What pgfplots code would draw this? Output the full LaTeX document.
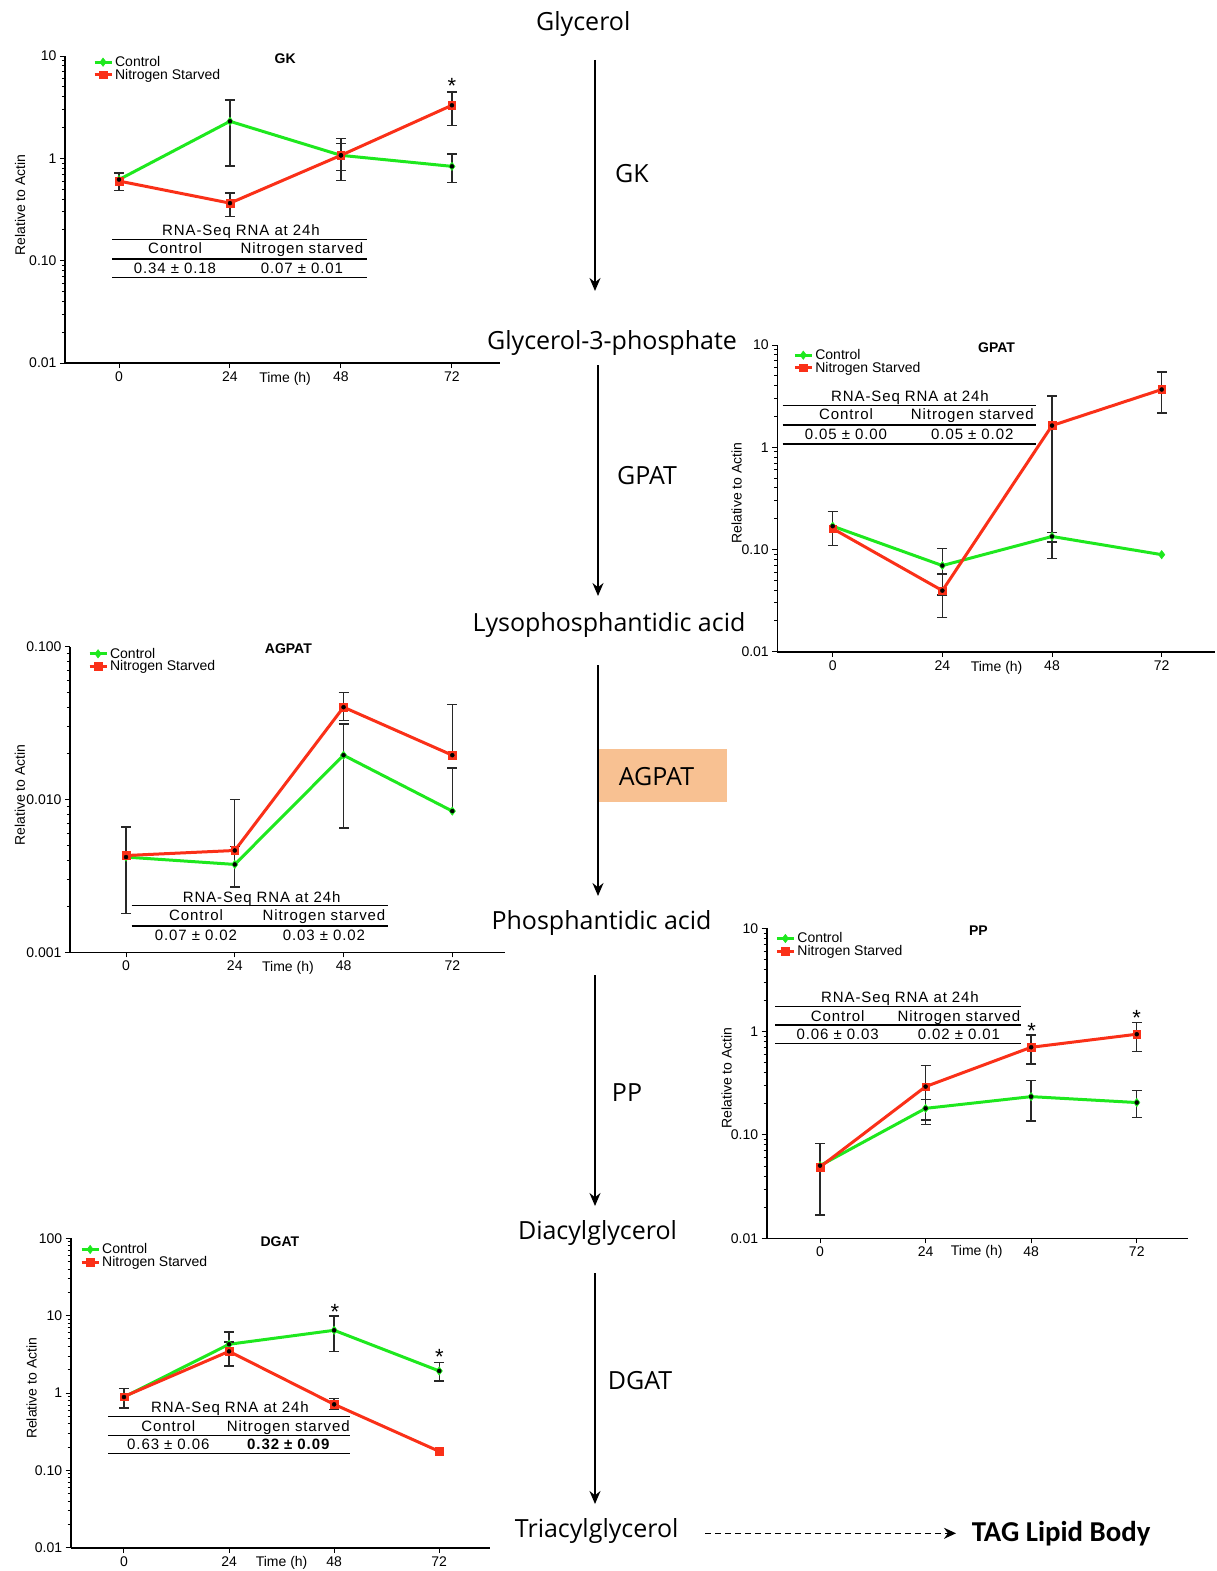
\documentclass[border=0pt]{standalone}
\usepackage{fontspec}
\setmainfont{Liberation Sans}
\newfontfamily\pathfont{Open Sans}
\newfontfamily\tagfont{Carlito}
\newfontfamily\tablefont{Liberation Sans}[LetterSpace=6]
\usepackage{pgfplots}
\pgfplotsset{compat=1.18}
\usetikzlibrary{arrows.meta}
\definecolor{ctrl}{RGB}{30,232,30}
\definecolor{nsc}{RGB}{250,48,24}
\definecolor{agbox}{RGB}{248,193,146}
\definecolor{ebc}{RGB}{40,40,40}
\newcommand{\pf}{\fontsize{14}{14}\selectfont}
\newcommand{\tf}{\tablefont\fontsize{15}{15}\selectfont}
\newcommand{\pwf}{\pathfont\fontsize{25}{25}\selectfont}

\begin{document}
\begin{tikzpicture}
\useasboundingbox (0pt,0pt) rectangle (1216pt,-1571pt);

%================ GK ================
\begin{axis}[scale only axis, ymode=log, clip=false,
  axis x line*=bottom, axis y line*=left,
  axis line style={-, line width=1.6pt},
  xtick={0,24,48,72}, xticklabels={0,24,48,72},
  tick align=outside, major tick length=5pt, minor tick length=3pt,
  every tick/.style={black, line width=1pt},
  tick label style={font=\pf},
  /pgf/number format/assume math mode=true,
  xlabel={Time (h)}, ylabel={Relative to Actin},
  xlabel style={font=\pf, anchor=center, at={(axis description cs:0.506,-0.052)}},
  ylabel style={font=\pf, anchor=center, at={(axis description cs:-0.103,0.515)}},
  title={GK}, title style={font=\pf\bfseries, anchor=center, at={(axis description cs:0.506,0.971)}},
  legend style={draw=none, fill=none, font=\pf, anchor=north west, inner sep=0pt, row sep=-3pt,
    at={(axis description cs:0.064,1.006)}},
  legend cell align=left,
  at={(65pt,-363pt)}, anchor=south west,
  width=435pt, height=307pt, xmin=-11.68, xmax=82.4, ymin=0.01, ymax=10,
  ytick={0.01,0.1,1,10}, yticklabels={0.01,0.10,1,10}]
\addplot[color=ctrl, line width=3pt, mark=diamond*, mark size=4.2pt, mark options={solid, line width=0.5pt}] table {
t v
0 0.62
24 2.3
48 1.07
72 0.835
};
\addlegendentry{Control}
\addplot[color=nsc, line width=3pt, mark=square*, mark size=3.8pt, mark options={solid, line width=0.5pt}] table {
t v
0 0.60
24 0.365
48 1.07
72 3.3
};
\addlegendentry{Nitrogen Starved}
\addplot[forget plot, only marks, mark=*, mark options={draw=none, fill=none},
  error bars/y dir=both, error bars/y explicit,
  error bars/error bar style={ebc, line width=1.4pt},
  error bars/error mark options={ebc, draw=ebc, line width=1.4pt, mark size=5pt, rotate=90}]
  table[x=t, y=v, y error plus=ep, y error minus=em] {
t v ep em
0 0.62 0.10 0.134
24 2.3 1.4 1.46
48 1.07 0.49 0.31
72 0.835 0.265 0.255
24 0.365 0.095 0.095
48 1.07 0.32 0.46
72 3.3 1.16 1.2
};
\end{axis}

%================ GPAT ================
\begin{axis}[scale only axis, ymode=log, clip=false,
  axis x line*=bottom, axis y line*=left,
  axis line style={-, line width=1.6pt},
  xtick={0,24,48,72}, xticklabels={0,24,48,72},
  tick align=outside, major tick length=5pt, minor tick length=3pt,
  every tick/.style={black, line width=1pt},
  tick label style={font=\pf},
  /pgf/number format/assume math mode=true,
  xlabel={Time (h)}, ylabel={Relative to Actin},
  xlabel style={font=\pf, anchor=center, at={(axis description cs:0.501,-0.053)}},
  ylabel style={font=\pf, anchor=center, at={(axis description cs:-0.093,0.517)}},
  title={GPAT}, title style={font=\pf\bfseries, anchor=center, at={(axis description cs:0.501,0.971)}},
  legend style={draw=none, fill=none, font=\pf, anchor=north west, inner sep=0pt, row sep=-3pt,
    at={(axis description cs:0.036,0.993)}},
  legend cell align=left,
  at={(777.3pt,-651.7pt)}, anchor=south west,
  width=437.7pt, height=306.7pt, xmin=-12.12, xmax=83.67, ymin=0.01, ymax=10,
  ytick={0.01,0.1,1,10}, yticklabels={0.01,0.10,1,10}]
\addplot[color=ctrl, line width=3pt, mark=diamond*, mark size=4.2pt, mark options={solid, line width=0.5pt}] table {
t v
0 0.169
24 0.0696
48 0.134
72 0.089
};
\addlegendentry{Control}
\addplot[color=nsc, line width=3pt, mark=square*, mark size=3.8pt, mark options={solid, line width=0.5pt}] table {
t v
0 0.160
24 0.0396
48 1.63
72 3.67
};
\addlegendentry{Nitrogen Starved}
\addplot[forget plot, only marks, mark=*, mark options={draw=none, fill=none},
  error bars/y dir=both, error bars/y explicit,
  error bars/error bar style={ebc, line width=1.4pt},
  error bars/error mark options={ebc, draw=ebc, line width=1.4pt, mark size=5pt, rotate=90}]
  table[x=t, y=v, y error plus=ep, y error minus=em] {
t v ep em
0 0.169 0.066 0.060
24 0.0696 0.033 0.0336
48 0.134 0.013 0.052
24 0.0396 0.018 0.018
48 1.63 1.53 1.512
72 3.67 1.75 1.5
};
\end{axis}

%================ AGPAT ================
\begin{axis}[scale only axis, ymode=log, clip=false,
  axis x line*=bottom, axis y line*=left,
  axis line style={-, line width=1.6pt},
  xtick={0,24,48,72}, xticklabels={0,24,48,72},
  tick align=outside, major tick length=5pt, minor tick length=3pt,
  every tick/.style={black, line width=1pt},
  tick label style={font=\pf},
  /pgf/number format/assume math mode=true,
  xlabel={Time (h)}, ylabel={Relative to Actin},
  xlabel style={font=\pf, anchor=center, at={(axis description cs:0.501,-0.051)}},
  ylabel style={font=\pf, anchor=center, at={(axis description cs:-0.115,0.515)}},
  title={AGPAT}, title style={font=\pf\bfseries, anchor=center, at={(axis description cs:0.502,0.973)}},
  legend style={draw=none, fill=none, font=\pf, anchor=north west, inner sep=0pt, row sep=-3pt,
    at={(axis description cs:0.041,1.003)}},
  legend cell align=left,
  at={(70pt,-952.3pt)}, anchor=south west,
  width=435pt, height=305.6pt, xmin=-12.36, xmax=83.63, ymin=0.001, ymax=0.1,
  ytick={0.001,0.01,0.1}, yticklabels={0.001,0.010,0.100}]
\addplot[color=ctrl, line width=3pt, mark=diamond*, mark size=4.2pt, mark options={solid, line width=0.5pt}] table {
t v
0 0.0042
24 0.00376
48 0.0195
72 0.0084
};
\addlegendentry{Control}
\addplot[color=nsc, line width=3pt, mark=square*, mark size=3.8pt, mark options={solid, line width=0.5pt}] table {
t v
0 0.0043
24 0.00464
48 0.0402
72 0.0195
};
\addlegendentry{Nitrogen Starved}
\addplot[forget plot, only marks, mark=*, mark options={draw=none, fill=none},
  error bars/y dir=both, error bars/y explicit,
  error bars/error bar style={ebc, line width=1.4pt},
  error bars/error mark options={ebc, draw=ebc, line width=1.4pt, mark size=5pt, rotate=90}]
  table[x=t, y=v, y error plus=ep, y error minus=em] {
t v ep em
0 0.0042 0.00242 0.00241
24 0.00376 0.00117 0.00108
48 0.0195 0.0118 0.013
48 0.0402 0.0101 0.0074
};
\addplot[forget plot, only marks, mark=*, mark options={draw=none, fill=none},
  error bars/y dir=plus, error bars/y explicit,
  error bars/error bar style={ebc, line width=1.4pt},
  error bars/error mark options={ebc, draw=ebc, line width=1.4pt, mark size=5pt, rotate=90}]
  table[x=t, y=v, y error plus=ep] {
t v ep
72 0.0084 0.0077
24 0.00464 0.0054
72 0.0195 0.0224
};
\end{axis}

%================ PP ================
\begin{axis}[scale only axis, ymode=log, clip=false,
  axis x line*=bottom, axis y line*=left,
  axis line style={-, line width=1.6pt},
  xtick={0,24,48,72}, xticklabels={0,24,48,72},
  tick align=outside, major tick length=5pt, minor tick length=3pt,
  every tick/.style={black, line width=1pt},
  tick label style={font=\pf},
  /pgf/number format/assume math mode=true,
  xlabel={Time (h)}, ylabel={Relative to Actin},
  xlabel style={font=\pf, anchor=center, at={(axis description cs:0.498,-0.045)}},
  ylabel style={font=\pf, anchor=center, at={(axis description cs:-0.095,0.517)}},
  title={PP}, title style={font=\pf\bfseries, anchor=center, at={(axis description cs:0.502,0.973)}},
  legend style={draw=none, fill=none, font=\pf, anchor=north west, inner sep=0pt, row sep=-3pt,
    at={(axis description cs:0.020,0.993)}},
  legend cell align=left,
  at={(766.7pt,-1238.3pt)}, anchor=south west,
  width=421.6pt, height=310pt, xmin=-12.12, xmax=83.72, ymin=0.01, ymax=10,
  ytick={0.01,0.1,1,10}, yticklabels={0.01,0.10,1,10}]
\addplot[color=ctrl, line width=3pt, mark=diamond*, mark size=4.2pt, mark options={solid, line width=0.5pt}] table {
t v
0 0.0505
24 0.181
48 0.235
72 0.206
};
\addlegendentry{Control}
\addplot[color=nsc, line width=3pt, mark=square*, mark size=3.8pt, mark options={solid, line width=0.5pt}] table {
t v
0 0.049
24 0.294
48 0.706
72 0.944
};
\addlegendentry{Nitrogen Starved}
\addplot[forget plot, only marks, mark=*, mark options={draw=none, fill=none},
  error bars/y dir=both, error bars/y explicit,
  error bars/error bar style={ebc, line width=1.4pt},
  error bars/error mark options={ebc, draw=ebc, line width=1.4pt, mark size=5pt, rotate=90}]
  table[x=t, y=v, y error plus=ep, y error minus=em] {
t v ep em
0 0.0505 0.0325 0.0337
24 0.181 0.04 0.041
48 0.235 0.101 0.098
72 0.206 0.062 0.058
24 0.294 0.175 0.167
48 0.706 0.224 0.219
72 0.944 0.286 0.304
};
\end{axis}

%================ DGAT ================
\begin{axis}[scale only axis, ymode=log, clip=false,
  axis x line*=bottom, axis y line*=left,
  axis line style={-, line width=1.6pt},
  xtick={0,24,48,72}, xticklabels={0,24,48,72},
  tick align=outside, major tick length=5pt, minor tick length=3pt,
  every tick/.style={black, line width=1pt},
  tick label style={font=\pf},
  /pgf/number format/assume math mode=true,
  xlabel={Time (h)}, ylabel={Relative to Actin},
  xlabel style={font=\pf, anchor=center, at={(axis description cs:0.503,-0.050)}},
  ylabel style={font=\pf, anchor=center, at={(axis description cs:-0.093,0.515)}},
  title={DGAT}, title style={font=\pf\bfseries, anchor=center, at={(axis description cs:0.499,0.970)}},
  legend style={draw=none, fill=none, font=\pf, anchor=north west, inner sep=0pt, row sep=-3pt,
    at={(axis description cs:0.022,0.990)}},
  legend cell align=left,
  at={(70.7pt,-1547.7pt)}, anchor=south west,
  width=419.3pt, height=309.4pt, xmin=-12.17, xmax=83.6, ymin=0.01, ymax=100,
  ytick={0.01,0.1,1,10,100}, yticklabels={0.01,0.10,1,10,100}]
\addplot[color=ctrl, line width=3pt, mark=diamond*, mark size=4.2pt, mark options={solid, line width=0.5pt}] table {
t v
0 0.887
24 4.27
48 6.47
72 1.93
};
\addlegendentry{Control}
\addplot[color=nsc, line width=3pt, mark=square*, mark size=3.8pt, mark options={solid, line width=0.5pt}] table {
t v
0 0.90
24 3.46
48 0.714
72 0.176
};
\addlegendentry{Nitrogen Starved}
\addplot[forget plot, only marks, mark=*, mark options={draw=none, fill=none},
  error bars/y dir=both, error bars/y explicit,
  error bars/error bar style={ebc, line width=1.4pt},
  error bars/error mark options={ebc, draw=ebc, line width=1.4pt, mark size=5pt, rotate=90}]
  table[x=t, y=v, y error plus=ep, y error minus=em] {
t v ep em
0 0.887 0.253 0.247
24 4.27 1.88 2.0
48 6.47 3.43 3.01
72 1.93 0.54 0.5
24 3.46 1.11 1.22
48 0.714 0.132 0.099
};
\end{axis}

%================ significance stars ================
\begin{scope}[every node/.style={font=\fontsize{22}{22}\selectfont, anchor=base, inner sep=0pt}]
\node at (452pt,-93pt) {*};
\node at (1031.7pt,-1038pt) {*};
\node at (1136.7pt,-1025pt) {*};
\node at (335pt,-1319.5pt) {*};
\node at (439.3pt,-1364.5pt) {*};
\end{scope}

%================ RNA-Seq tables ================
\begin{scope}[every node/.style={font=\tf, anchor=base, inner sep=0pt}]
\node at (241pt,-235.3pt) {RNA-Seq RNA at 24h};
\draw[line width=1.3pt] (112pt,-239.3pt) -- (367pt,-239.3pt);
\node at (175pt,-253.3pt) {Control};
\node at (302pt,-253.3pt) {Nitrogen starved};
\draw[line width=1.3pt] (112pt,-259pt) -- (367pt,-259pt);
\node at (175pt,-273.6pt) {0.34 ± 0.18};
\node at (302pt,-273.6pt) {0.07 ± 0.01};
\draw[line width=1.3pt] (112pt,-277.7pt) -- (367pt,-277.7pt);
\node at (910pt,-401pt) {RNA-Seq RNA at 24h};
\draw[line width=1.3pt] (782.7pt,-405.7pt) -- (1036pt,-405.7pt);
\node at (846pt,-419.6pt) {Control};
\node at (972.3pt,-419.6pt) {Nitrogen starved};
\draw[line width=1.3pt] (782.7pt,-425pt) -- (1036pt,-425pt);
\node at (846pt,-439.6pt) {0.05 ± 0.00};
\node at (972.3pt,-439.6pt) {0.05 ± 0.02};
\draw[line width=1.3pt] (782.7pt,-444pt) -- (1036pt,-444pt);
\node at (261.7pt,-902pt) {RNA-Seq RNA at 24h};
\draw[line width=1.3pt] (131.7pt,-905.7pt) -- (388.3pt,-905.7pt);
\node at (196pt,-920.3pt) {Control};
\node at (324pt,-920.3pt) {Nitrogen starved};
\draw[line width=1.3pt] (131.7pt,-926pt) -- (388.3pt,-926pt);
\node at (196pt,-940.3pt) {0.07 ± 0.02};
\node at (324pt,-940.3pt) {0.03 ± 0.02};
\node at (900pt,-1002pt) {RNA-Seq RNA at 24h};
\draw[line width=1.3pt] (775pt,-1006.7pt) -- (1021pt,-1006.7pt);
\node at (837.7pt,-1021pt) {Control};
\node at (959pt,-1021pt) {Nitrogen starved};
\draw[line width=1.3pt] (775pt,-1025pt) -- (1021pt,-1025pt);
\node at (837.7pt,-1039.3pt) {0.06 ± 0.03};
\node at (959pt,-1039.3pt) {0.02 ± 0.01};
\draw[line width=1.3pt] (775pt,-1043.3pt) -- (1021pt,-1043.3pt);
\node at (230pt,-1412pt) {RNA-Seq RNA at 24h};
\draw[line width=1.3pt] (108.3pt,-1416.7pt) -- (350pt,-1416.7pt);
\node at (168.3pt,-1431pt) {Control};
\node at (288.3pt,-1431pt) {Nitrogen starved};
\draw[line width=1.3pt] (108.3pt,-1435.3pt) -- (350pt,-1435.3pt);
\node at (168.3pt,-1449.3pt) {0.63 ± 0.06};
\node at (288.3pt,-1449.3pt) {\bfseries 0.32 ± 0.09};
\draw[line width=1.3pt] (108.3pt,-1453.7pt) -- (350pt,-1453.7pt);
\end{scope}

%================ pathway ================
\fill[agbox] (598.3pt,-749.3pt) rectangle (726.7pt,-802.3pt);
\begin{scope}[every node/.style={font=\pwf, anchor=base, inner sep=0pt}]
\node at (583.3pt,-31pt) {Glycerol};
\node at (632pt,-182pt) {GK};
\node at (612pt,-349pt) {Glycerol-3-phosphate};
\node at (647pt,-484pt) {GPAT};
\node at (609pt,-631pt) {Lysophosphantidic acid};
\node at (656.5pt,-785.7pt) {AGPAT};
\node at (601.5pt,-929pt) {Phosphantidic acid};
\node at (627pt,-1101pt) {PP};
\node at (597.5pt,-1239pt) {Diacylglycerol};
\node at (640pt,-1389pt) {DGAT};
\node at (596.7pt,-1537pt) {Triacylglycerol};
\end{scope}
\node[font=\tagfont\bfseries\fontsize{28.8}{28.8}\selectfont, anchor=base west, inner sep=0pt] at (971.7pt,-1541.7pt) {TAG Lipid Body};
\begin{scope}[line width=1.6pt, -{Stealth[length=13pt,width=11pt]}]
\draw (595pt,-60pt) -- (595pt,-291pt);
\draw (598pt,-365pt) -- (598pt,-596pt);
\draw (598pt,-665pt) -- (598pt,-896pt);
\draw (595pt,-975pt) -- (595pt,-1206pt);
\draw (595pt,-1273pt) -- (595pt,-1504pt);
\end{scope}
\draw[line width=1.3pt, dash pattern=on 6pt off 4pt, -{Stealth[length=12pt,width=11pt]}] (705pt,-1533.3pt) -- (956pt,-1533.3pt);
\end{tikzpicture}
\end{document}
